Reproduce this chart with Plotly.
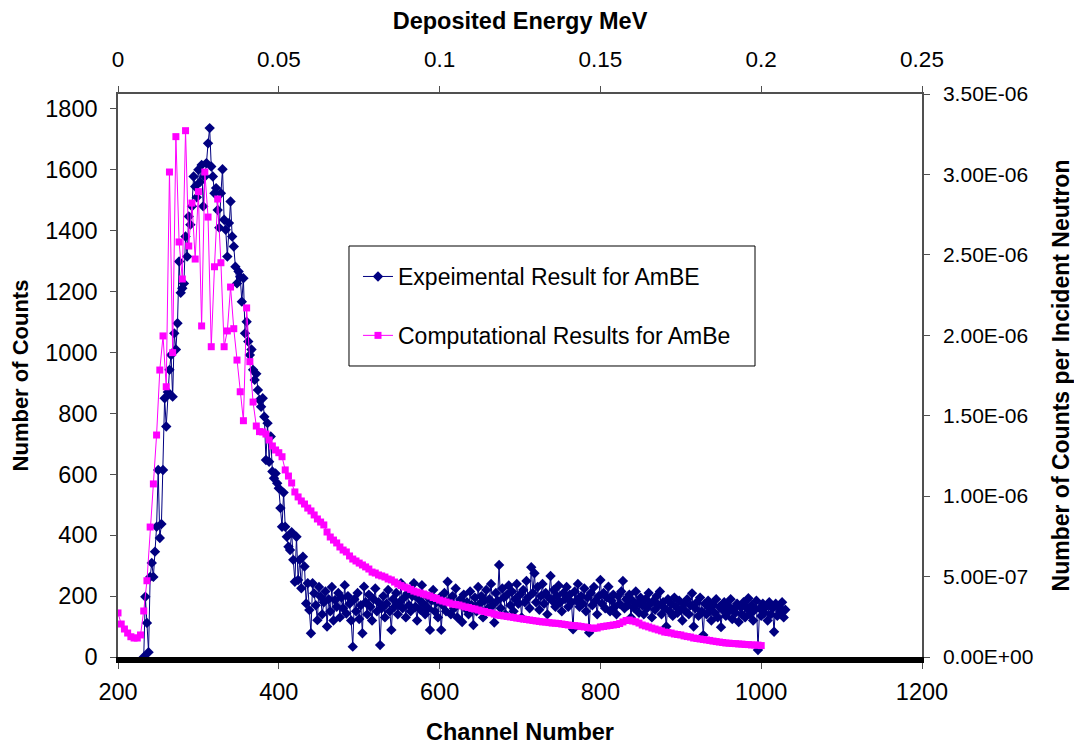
import plotly.graph_objects as go

# ---------------- data ----------------
channel = list(range(232, 1031, 2))
exp_counts = [
    0, 198, 112, 16, 263, 309, 263, 346, 428, 614, 391, 437, 614, 850, 757, 870, 943, 992, 855, 1063,
    1010, 1096, 1299, 1196, 1211, 1227, 1381, 1315, 1447, 1420, 1480, 1578, 1545, 1510, 1600, 1560, 1616, 1480, 1578, 1622,
    1687, 1737, 1611, 1578, 1523, 1540, 1468, 1410, 1523, 1602, 1436, 1403, 1315, 1425, 1496, 1381, 1348, 1282, 1227, 1266,
    1249, 1167, 1244, 1063, 1101, 1036, 992, 1010, 943, 910, 930, 877, 844, 822, 850, 789, 647, 768, 641, 724,
    609, 587, 603, 571, 554, 489, 428, 540, 428, 395, 362, 351, 410, 319, 247, 395, 253, 319, 226, 329,
    297, 176, 242, 154, 78, 242, 209, 170, 121, 230, 198, 140, 180, 215, 100, 190, 150, 230, 120, 187,
    165, 210, 130, 195, 160, 236, 143, 200, 175, 120, 34, 190, 150, 210, 125, 170, 78, 231, 180, 140,
    205, 165, 120, 190, 225, 150, 180, 39, 160, 200, 130, 175, 220, 150, 89, 190, 165, 210, 140, 180,
    242, 160, 195, 130, 209, 170, 150, 200, 242, 165, 120, 190, 155, 236, 175, 140, 200, 160, 89, 185,
    220, 150, 180, 130, 195, 89, 170, 210, 150, 247, 185, 140, 200, 160, 225, 130, 175, 190, 115, 205,
    160, 180, 140, 215, 170, 105, 195, 150, 230, 175, 200, 130, 185, 220, 160, 190, 240, 170, 113, 210,
    185, 302, 160, 225, 195, 140, 205, 235, 170, 215, 150, 190, 240, 175, 205, 130, 220, 180, 250, 195,
    160, 295, 210, 275, 180, 230, 155, 200, 240, 175, 210, 140, 195, 266, 185, 220, 165, 200, 235, 180,
    150, 210, 190, 230, 165, 205, 180, 91, 215, 185, 240, 165, 200, 175, 225, 150, 195, 80, 210, 170,
    230, 185, 140, 200, 253, 175, 210, 160, 195, 231, 150, 185, 205, 165, 140, 200, 175, 215, 250, 160,
    190, 170, 205, 130, 185, 160, 215, 175, 145, 195, 170, 140, 190, 160, 210, 175, 130, 185, 155, 200,
    170, 215, 140, 180, 160, 100, 190, 150, 175, 135, 195, 165, 145, 185, 155, 120, 175, 150, 190, 140,
    170, 209, 100, 160, 180, 135, 195, 150, 72, 175, 140, 185, 160, 120, 170, 145, 190, 130, 165, 98,
    155, 180, 135, 170, 150, 190, 125, 160, 145, 175, 115, 165, 140, 180, 130, 160, 193, 140, 170, 120,
    155, 185, 23, 160, 135, 175, 145, 165, 120, 180, 140, 160, 83, 175, 135, 165, 150, 180, 130, 155,
]

energy_mev = [round(0.001 * i, 3) for i in range(201)]
# counts per incident neutron, in units of 1e-7
comp_per_neutron_e7 = [
    2.74, 2.05, 1.74, 1.49, 1.26, 1.18, 1.18, 1.37, 2.86, 4.74,
    8.08, 10.76, 13.80, 17.84, 19.96, 16.80, 30.15, 18.92, 32.35, 25.80,
    23.50, 32.72, 25.55, 28.22, 24.74, 28.93, 20.58, 30.15, 27.35, 19.29,
    24.26, 28.47, 24.51, 19.29, 20.27, 23.00, 20.41, 18.46, 16.49, 14.69,
    21.70, 18.36, 15.85, 14.36, 14.01, 13.99, 13.86, 13.49, 13.12, 12.87,
    12.70, 12.45, 11.63, 11.25, 10.82, 10.26, 9.95, 9.70, 9.51, 9.26,
    9.08, 8.83, 8.58, 8.39, 8.21, 7.77, 7.46, 7.27, 7.09, 6.84,
    6.65, 6.53, 6.28, 6.09, 5.97, 5.84, 5.72, 5.60, 5.47, 5.28,
    5.22, 5.10, 5.04, 4.97, 4.85, 4.79, 4.66, 4.54, 4.44, 4.35,
    4.29, 4.20, 4.10, 4.04, 3.98, 3.92, 3.85, 3.79, 3.70, 3.64,
    3.54, 3.48, 3.42, 3.36, 3.29, 3.26, 3.23, 3.17, 3.11, 3.08,
    3.02, 2.98, 2.92, 2.86, 2.83, 2.77, 2.74, 2.67, 2.61, 2.58,
    2.55, 2.52, 2.49, 2.46, 2.42, 2.39, 2.36, 2.33, 2.30, 2.27,
    2.24, 2.21, 2.18, 2.17, 2.14, 2.11, 2.10, 2.08, 2.05, 2.02,
    1.99, 1.96, 1.95, 1.93, 1.90, 1.87, 1.83, 1.80, 1.78, 1.80,
    1.87, 1.90, 1.93, 1.96, 1.99, 2.02, 2.08, 2.18, 2.27, 2.30,
    2.24, 2.19, 2.11, 1.99, 1.93, 1.87, 1.80, 1.74, 1.68, 1.62,
    1.55, 1.52, 1.49, 1.43, 1.40, 1.37, 1.31, 1.27, 1.24, 1.18,
    1.15, 1.12, 1.09, 1.06, 1.03, 0.99, 0.96, 0.93, 0.90, 0.87,
    0.86, 0.84, 0.83, 0.81, 0.80, 0.78, 0.77, 0.75, 0.74, 0.74, 0.71,
]
comp_per_neutron = [v * 1e-7 for v in comp_per_neutron_e7]

channel_ticks = [200, 400, 600, 800, 1000, 1200]
count_ticks = [0, 200, 400, 600, 800, 1000, 1200, 1400, 1600, 1800]
energy_ticks = [0, 0.05, 0.1, 0.15, 0.2, 0.25]
energy_ticklabels = ["0", "0.05", "0.1", "0.15", "0.2", "0.25"]
right_ticks = [0, 5e-7, 1e-6, 1.5e-6, 2e-6, 2.5e-6, 3e-6, 3.5e-6]
right_ticklabels = ["0.00E+00", "5.00E-07", "1.00E-06", "1.50E-06",
                    "2.00E-06", "2.50E-06", "3.00E-06", "3.50E-06"]

series_names = ["Expeimental Result for AmBE", "Computational Results for AmBe"]

# ---------------- figure ----------------
FONT = "Liberation Sans, Arial, sans-serif"
AX = "#505050"

fig = go.Figure()
fig.add_trace(go.Scatter(
    x=channel, y=exp_counts, name=series_names[0], legendgroup="a",
    mode="lines+markers",
    line=dict(color="#000080", width=1),
    marker=dict(symbol="diamond", size=8, color="#000080"),
    xaxis="x", yaxis="y",
))
fig.add_trace(go.Scatter(
    x=energy_mev, y=comp_per_neutron, name=series_names[1], legendgroup="b",
    mode="lines+markers",
    line=dict(color="#FF00FF", width=1),
    marker=dict(symbol="square", size=7, color="#FF00FF"),
    xaxis="x2", yaxis="y2",
))

def tf(size):
    return dict(family=FONT, size=size, color="#000")

fig.update_layout(
    width=1066, height=737,
    margin=dict(l=110, r=152, t=86, b=88),
    paper_bgcolor="white", plot_bgcolor="white",
    font=dict(family=FONT, color="#000"),
    showlegend=True,
    legend=dict(
        x=0.2985, y=0.714, xanchor="left", yanchor="top",
        bgcolor="rgba(0,0,0,0)", borderwidth=0,
        font=tf(23),
        traceorder="grouped", tracegroupgap=26,
    ),
    shapes=[dict(
        type="rect", xref="paper", yref="paper",
        x0=0.2873, x1=0.7923, y0=0.5169, y1=0.730,
        line=dict(color="#000", width=1), fillcolor="white", layer="below",
    )],
    xaxis=dict(
        range=[200, 1200], tickvals=channel_ticks, ticks="outside", ticklen=6,
        tickcolor=AX, showline=True, linecolor="#000", linewidth=6,
        showgrid=False, zeroline=False, tickfont=tf(23.5), automargin=False,
        ticklabelstandoff=3,
        title=dict(text="<b>Channel Number</b>", font=tf(23.5), standoff=26),
    ),
    yaxis=dict(
        range=[0, 1849], tickvals=count_ticks, ticks="outside", ticklen=6,
        tickcolor=AX, showline=True, linecolor=AX, linewidth=1.5,
        showgrid=False, zeroline=False, tickfont=tf(23.5), automargin=False,
        ticklabelstandoff=8,
        title=dict(text="<b>Number of Counts</b>", font=tf(22), standoff=12),
    ),
    xaxis2=dict(
        overlaying="x", side="top", range=[0, 0.25], tickvals=energy_ticks,
        ticktext=energy_ticklabels, ticks="outside", ticklen=6, tickcolor=AX,
        showline=True, linecolor=AX, linewidth=1.5, showgrid=False,
        zeroline=False, tickfont=tf(22.5), automargin=False,
        ticklabelstandoff=10,
        title=dict(text="<b>Deposited Energy MeV</b>", font=tf(23.5), standoff=14),
    ),
    yaxis2=dict(
        overlaying="y", side="right", range=[0, 3.5e-6], tickvals=right_ticks,
        ticktext=right_ticklabels, ticks="outside", ticklen=6, tickcolor=AX,
        showline=True, linecolor=AX, linewidth=1.5, showgrid=False,
        zeroline=False, tickfont=tf(21), automargin=False,
        ticklabelstandoff=9,
        title=dict(text="<b>Number of Counts per Incident Neutron</b>",
                   font=tf(23), standoff=26),
    ),
)

fig.write_html("out.html")
